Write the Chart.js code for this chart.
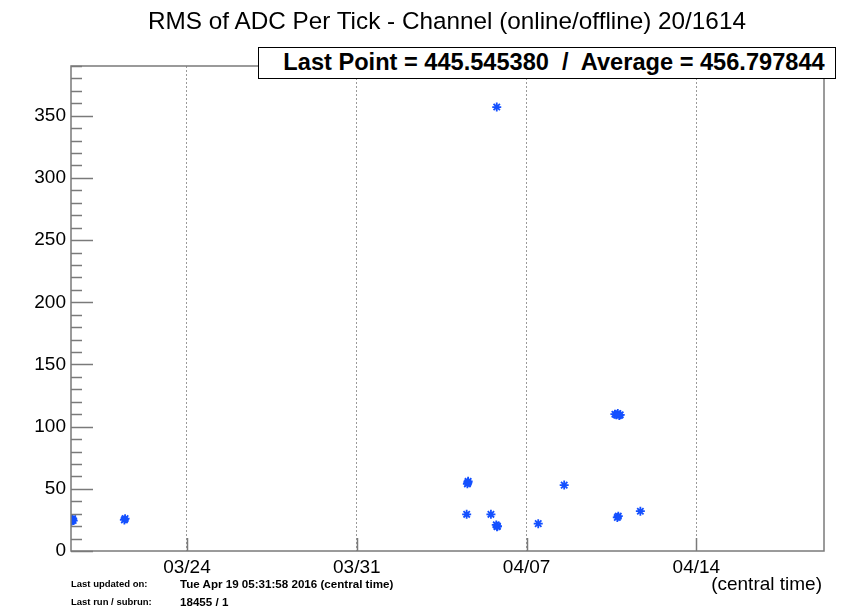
<!DOCTYPE html>
<html>
<head>
<meta charset="utf-8">
<script src="https://cdn.jsdelivr.net/npm/chart.js@4.4.1/dist/chart.umd.min.js"></script>
<style>
  html, body { margin: 0; padding: 0; background: #fff; }
  #wrap { position: relative; width: 852px; height: 607px; overflow: hidden; }
  canvas { position: absolute; left: 0; top: 0; }
  .txt { position: absolute; font-family: 'Liberation Sans', Arial, Helvetica, sans-serif; color: #000; white-space: pre; }
  #title { left: 0; width: 894px; top: 7px; text-align: center; font-size: 24.3px; line-height: 28px; }
  #stat { left: 258px; top: 47px; width: 562px; padding-left: 14px; height: 30px; border: 1px solid #000; background: #fff;
          text-align: center; font-size: 23.6px; font-weight: bold; line-height: 29px; }
  #ctime { right: 30px; top: 573px; font-size: 19px; }
  .foot { font-weight: bold; }
  .lab { left: 71px; font-size: 9.5px; }
  .val { left: 180px; font-size: 11.6px; }
  #f1 { top: 578px; }
  #v1 { top: 577px; }
  #f2 { top: 596px; }
  #v2 { top: 595px; }
</style>
</head>
<body>
<div id="wrap">
  <canvas id="c" width="852" height="607"></canvas>
  <div class="txt" id="title">RMS of ADC Per Tick - Channel (online/offline) 20/1614</div>
  <div class="txt" id="stat">Last Point = 445.545380  /  Average = 456.797844</div>
  <div class="txt" id="ctime">(central time)</div>
  <div class="txt foot lab" id="f1">Last updated on:</div>
  <div class="txt foot val" id="v1">Tue Apr 19 05:31:58 2016 (central time)</div>
  <div class="txt foot lab" id="f2">Last run / subrun:</div>
  <div class="txt foot val" id="v2">18455 / 1</div>
</div>
<script>
// Days relative to 03/24 00:00 (central time)
const xTickDays = [0, 7, 14, 21];
const xTickLabels = ["03/24", "03/31", "04/07", "04/14"];
const yTickValues = [0, 50, 100, 150, 200, 250, 300, 350];

const pointDays = [
  -4.76, -4.73, -4.71, -4.69, -4.74,
  -2.58, -2.55,
  11.56, 11.59, 11.58,
  11.53,
  12.53,
  12.75, 12.80, 12.78,
  12.77,
  14.48,
  15.55,
  17.64, 17.70, 17.76, 17.82, 17.86,
  17.74, 17.78,
  18.69
];
const pointValues = [
  24.0, 25.5, 26.0, 24.5, 25.0,
  25.0, 26.0,
  54.0, 56.0, 55.0,
  29.5,
  29.5,
  21.0, 20.0, 19.5,
  357.0,
  22.0,
  53.0,
  110.0, 109.5, 110.5, 109.0, 109.5,
  27.0, 28.0,
  32.0
];

const X_MIN = -4.78, X_MAX = 26.26, Y_MIN = 0, Y_MAX = 390;

const frameColor = '#7a7a7a';

const innerTicks = {
  id: 'innerTicks',
  afterDatasetsDraw(chart) {
    const ctx = chart.ctx, a = chart.chartArea;
    const xs = chart.scales.x, ys = chart.scales.y;
    ctx.save();
    ctx.strokeStyle = frameColor;
    ctx.lineWidth = 1.5;
    for (let v = Y_MIN; v <= Y_MAX; v += 10) {
      const y = Math.round(ys.getPixelForValue(v)) + 0.5;
      const len = (v % 50 === 0) ? 22 : 11;
      ctx.beginPath();
      ctx.moveTo(a.left, y);
      ctx.lineTo(a.left + len, y);
      ctx.stroke();
    }
    xTickDays.forEach(d => {
      const x = Math.round(xs.getPixelForValue(d)) + 0.5;
      ctx.beginPath();
      ctx.moveTo(x, a.bottom);
      ctx.lineTo(x, a.bottom - 13);
      ctx.stroke();
    });
    ctx.strokeRect(a.left, a.top, a.right - a.left, a.bottom - a.top);
    ctx.restore();
  }
};

const data = {
  datasets: [{
    data: pointDays.map((d, i) => ({ x: d, y: pointValues[i] })),
    pointStyle: 'star',
    pointRadius: 4.5,
    pointBorderWidth: 1.8,
    borderColor: '#1450ff',
    backgroundColor: '#1450ff',
    showLine: false
  }]
};

new Chart(document.getElementById('c'), {
  type: 'scatter',
  data,
  options: {
    responsive: false,
    animation: false,
    devicePixelRatio: 1,
    layout: { padding: { left: 0, top: 66, right: 28, bottom: 26 } },
    plugins: { legend: { display: false }, tooltip: { enabled: false }, title: { display: false } },
    scales: {
      x: {
        type: 'linear',
        min: X_MIN, max: X_MAX,
        afterBuildTicks(scale) { scale.ticks = xTickDays.map(v => ({ value: v })); },
        afterFit(scale) { scale.height = 30; },
        ticks: {
          autoSkip: false, maxRotation: 0, padding: 5,
          color: '#000',
          font: { family: "'Liberation Sans', Arial, sans-serif", size: 19 },
          callback(value) { const i = xTickDays.indexOf(value); return i >= 0 ? xTickLabels[i] : ''; }
        },
        grid: { drawOnChartArea: true, drawTicks: false, color: '#9a9a9a', lineWidth: 1, tickLength: 0 },
        border: { display: false, dash: [2, 2] }
      },
      y: {
        type: 'linear',
        min: Y_MIN, max: Y_MAX,
        afterBuildTicks(scale) { scale.ticks = yTickValues.map(v => ({ value: v })); },
        afterFit(scale) { scale.width = 71; },
        ticks: {
          autoSkip: false, padding: 5,
          color: '#000',
          font: { family: "'Liberation Sans', Arial, sans-serif", size: 19 }
        },
        grid: { display: false, drawTicks: false },
        border: { display: false }
      }
    }
  },
  plugins: [innerTicks]
});
</script>
</body>
</html>
